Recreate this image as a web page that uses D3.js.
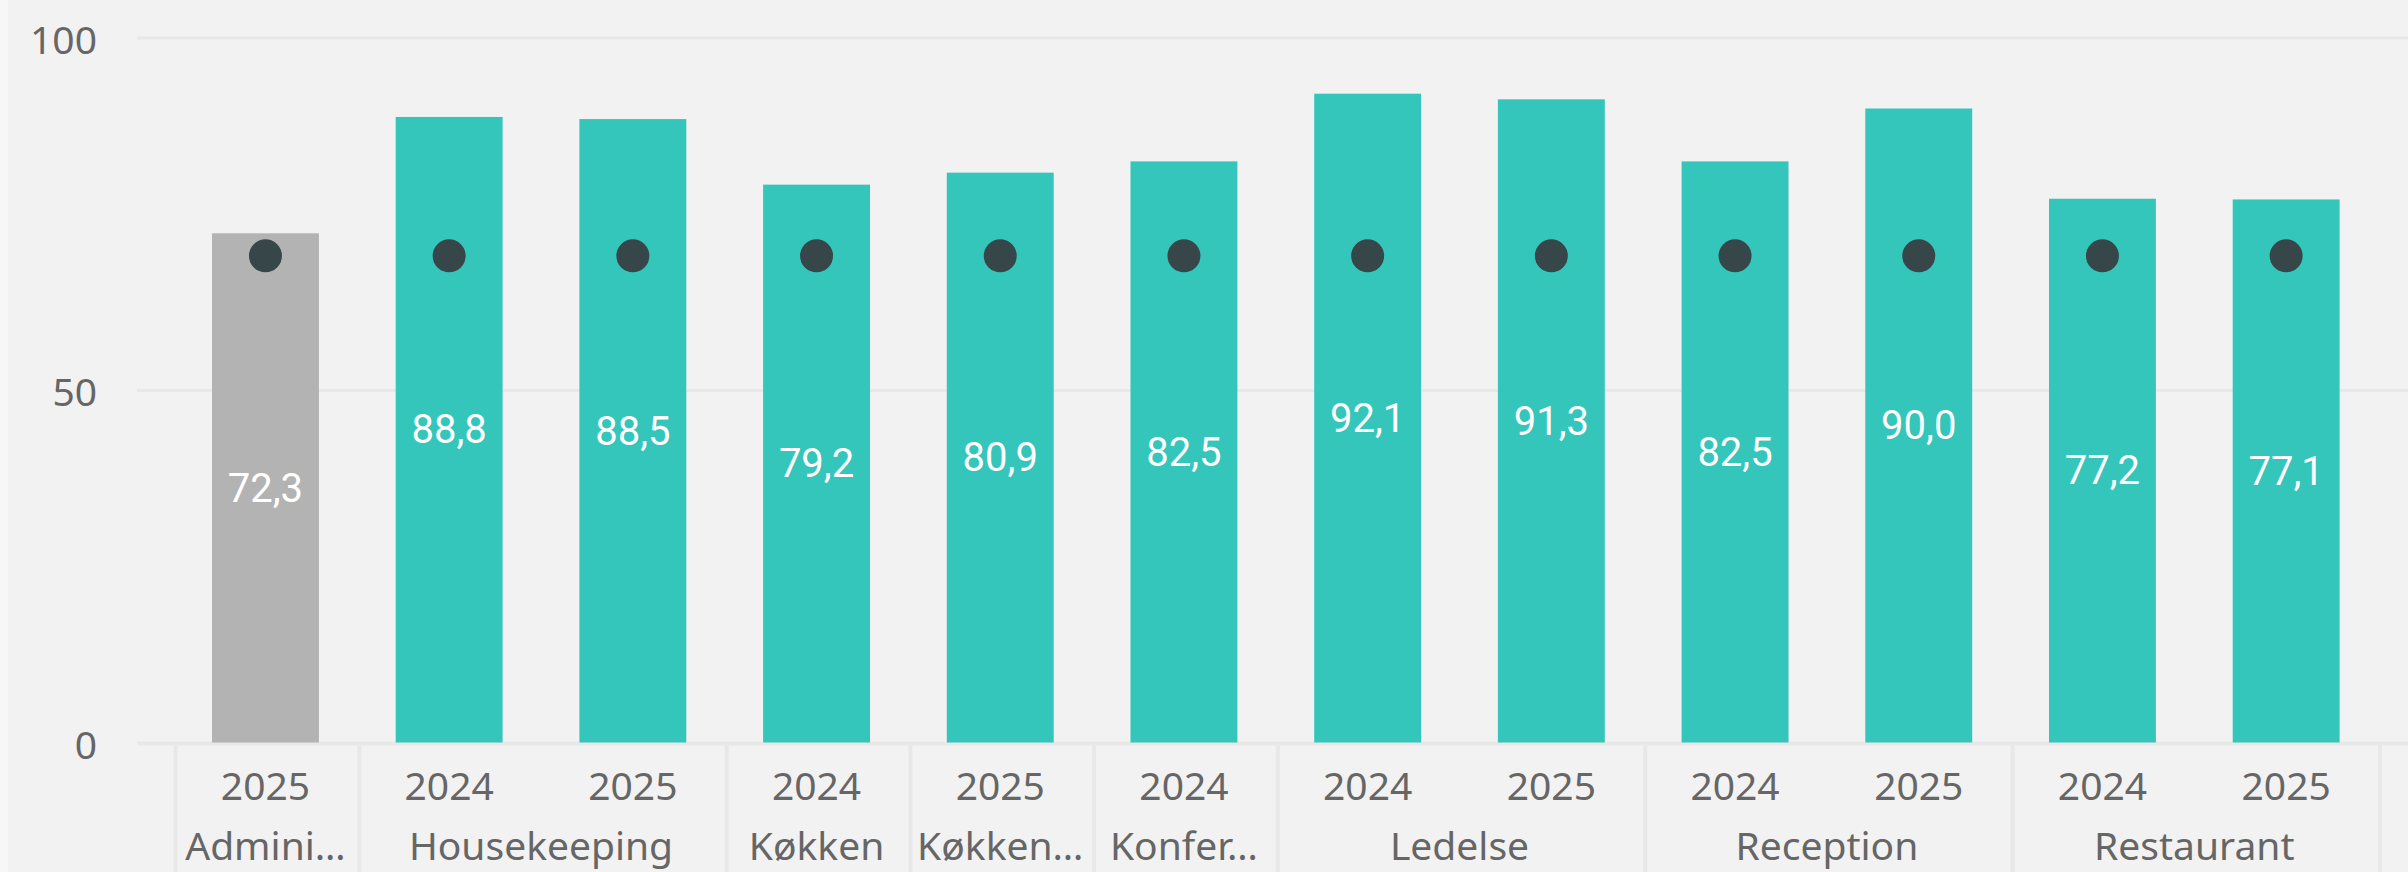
<!DOCTYPE html>
<html>
<head>
<meta charset="utf-8">
<script src="https://cdn.jsdelivr.net/npm/d3@7/dist/d3.min.js"></script>
<style>
  html, body { margin: 0; padding: 0; background: #f2f2f2; }
  svg { display: block; }
</style>
</head>
<body>
<script>
// ---- data ----
const categories = ["Admini…", "Housekeeping", "Housekeeping", "Køkken", "Køkken…", "Konfer…", "Ledelse", "Ledelse", "Reception", "Reception", "Restaurant", "Restaurant"];
const years = ["2025", "2024", "2025", "2024", "2025", "2024", "2024", "2025", "2024", "2025", "2024", "2025"];
const values = [72.3, 88.8, 88.5, 79.2, 80.9, 82.5, 92.1, 91.3, 82.5, 90.0, 77.2, 77.1];
const targets = [69.1, 69.1, 69.1, 69.1, 69.1, 69.1, 69.1, 69.1, 69.1, 69.1, 69.1, 69.1];
const highlighted = [true, false, false, false, false, false, false, false, false, false, false, false];
const yTicks = [0, 50, 100];

const W = 2408, H = 872;
const rows = categories.map((c, i) => ({ key: i, cat: c, year: years[i], value: values[i], target: targets[i], gray: highlighted[i] }));

const svg = d3.select("body").append("svg").attr("width", W).attr("height", H);
svg.append("rect").attr("width", W).attr("height", H).attr("fill", "#f2f2f2");
svg.append("rect").attr("width", 8).attr("height", H).attr("fill", "#f7f7f7");

const y = d3.scaleLinear().domain([0, 100]).range([743, 38]);
const x = d3.scaleBand().domain(rows.map(d => d.key)).range([173.6, 2378]).paddingInner(0.418).paddingOuter(0.209);
const step = x.step();

const fmt = d3.formatLocale({ decimal: ",", thousands: ".", grouping: [3], currency: ["", " kr"] }).format(".1f");
const textCol = "#666666";
const font = "'Noto Sans', 'Open Sans', sans-serif";

// gridlines
svg.append("g").selectAll("line").data(yTicks).join("line")
  .attr("x1", 137).attr("x2", W)
  .attr("y1", d => y(d)).attr("y2", d => y(d))
  .attr("stroke", "#e8e8e8").attr("stroke-width", 3);

// y axis labels
svg.append("g").selectAll("text").data(yTicks).join("text")
  .attr("x", 97).attr("y", d => y(d))
  .attr("text-anchor", "end").attr("dominant-baseline", "central")
  .attr("font-family", font).attr("font-size", 39).attr("fill", textCol)
  .text(d => d);

// bars
svg.append("g").selectAll("rect").data(rows).join("rect")
  .attr("x", d => x(d.key)).attr("width", x.bandwidth())
  .attr("y", d => y(d.value)).attr("height", d => y(0) - y(d.value))
  .attr("fill", d => d.gray ? "#b3b3b3" : "#34c6bb");

// data labels
svg.append("g").selectAll("text").data(rows).join("text")
  .attr("x", d => x(d.key) + x.bandwidth() / 2)
  .attr("y", d => (y(0) + y(d.value)) / 2)
  .attr("text-anchor", "middle").attr("dominant-baseline", "central")
  .attr("font-family", "Roboto, sans-serif").attr("font-size", 40).attr("fill", "#ffffff")
  .text(d => fmt(d.value));

// target dots
svg.append("g").selectAll("circle").data(rows).join("circle")
  .attr("cx", d => x(d.key) + x.bandwidth() / 2)
  .attr("cy", d => y(d.target))
  .attr("r", 16.5).attr("fill", "#374649");

// zero line on top
svg.append("line").attr("x1", 137).attr("x2", W).attr("y1", y(0) + 1).attr("y2", y(0) + 1)
  .attr("stroke", "#e8e8e8").attr("stroke-width", 3);

// year labels
svg.append("g").selectAll("text").data(rows).join("text")
  .attr("x", d => x(d.key) + x.bandwidth() / 2)
  .attr("y", 800)
  .attr("text-anchor", "middle")
  .attr("font-family", font).attr("font-size", 39).attr("fill", textCol)
  .text(d => d.year);

// category groups
const groups = [];
rows.forEach((d, i) => {
  const last = groups[groups.length - 1];
  if (last && last.cat === d.cat) last.end = i;
  else groups.push({ cat: d.cat, start: i, end: i });
});
const left = k => x(k) - x.paddingInner() * step / 2;
const right = k => left(k) + step;

svg.append("g").selectAll("text").data(groups).join("text")
  .attr("x", g => (left(g.start) + right(g.end)) / 2)
  .attr("y", 860)
  .attr("text-anchor", "middle")
  .attr("font-family", font).attr("font-size", 39).attr("fill", textCol)
  .text(g => g.cat);

const seps = [left(groups[0].start)].concat(groups.map(g => right(g.end)));
svg.append("g").selectAll("line").data(seps).join("line")
  .attr("x1", d => d + 2).attr("x2", d => d + 2)
  .attr("y1", y(0) + 2).attr("y2", H)
  .attr("stroke", "#e8e8e8").attr("stroke-width", 4);
</script>
</body>
</html>
